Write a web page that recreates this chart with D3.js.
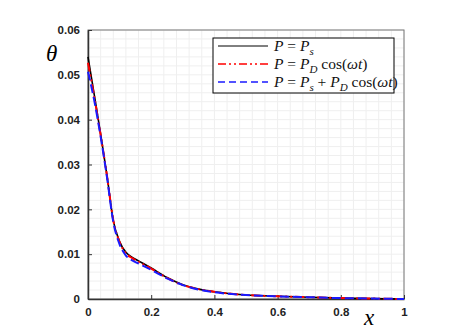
<!DOCTYPE html>
<html lang="en">
<head>
  <meta charset="UTF-8"/>
  <title>theta vs x</title>
  <script src="https://d3js.org/d3.v7.min.js"></script>
  <style>
    body { margin:0; background:#fff; }
    svg { display:block; }
    .tick-lbl { font-family:Arial,"Liberation Sans",sans-serif; font-weight:bold; font-size:11.5px; fill:#222; }
    .math { font-family:"Liberation Serif","DejaVu Serif",serif; }
  </style>
</head>
<body>
  <svg width="453" height="335"></svg>
  <script>
    // sampled positions along x
    const xs = [0, 0.02, 0.04, 0.06, 0.08, 0.10, 0.12, 0.14, 0.16, 0.20, 0.25, 0.30, 0.35, 0.40, 0.50, 0.60, 0.70, 0.80, 0.90, 1.00];
    // P = Ps
    const thetaStatic  = [0.0540, 0.0455, 0.0368, 0.0276, 0.0175, 0.0128, 0.0104, 0.0093, 0.0085, 0.0069, 0.0048, 0.0032, 0.0022, 0.0016, 0.0009, 0.0006, 0.0004, 0.0002, 0.0001, 0];
    // P = PD cos(wt)
    const thetaDynamic = [0.0527, 0.0450, 0.0366, 0.0275, 0.0176, 0.0127, 0.0102, 0.0091, 0.0083, 0.0068, 0.0047, 0.0031, 0.0022, 0.0016, 0.0009, 0.0006, 0.0004, 0.0002, 0.0001, 0];
    // P = Ps + PD cos(wt)
    const thetaCombined= [0.0507, 0.0442, 0.0362, 0.0272, 0.0172, 0.0122, 0.0097, 0.0086, 0.0079, 0.0065, 0.0046, 0.0031, 0.0021, 0.0015, 0.0009, 0.0006, 0.0004, 0.0002, 0.0001, 0];
    const xTicks = [0, 0.2, 0.4, 0.6, 0.8, 1];
    const yTicks = [0, 0.01, 0.02, 0.03, 0.04, 0.05, 0.06];

    const svg = d3.select('svg');
    const L = 88, R = 404, T = 30, B = 299;

    const x = d3.scaleLinear().domain([0,1]).range([L,R]);
    const y = d3.scaleLinear().domain([0,0.06]).range([B,T]);

    // grid (minor every 0.04 / 0.002)
    const grid = svg.append('g').attr('stroke','#efefef').attr('stroke-width',1);
    d3.range(0, 1.0001, 0.04).forEach(v=>{
      grid.append('line').attr('x1',x(v)).attr('x2',x(v)).attr('y1',T).attr('y2',B);
    });
    d3.range(0, 0.06001, 0.002).forEach(v=>{
      grid.append('line').attr('y1',y(v)).attr('y2',y(v)).attr('x1',L).attr('x2',R);
    });

    // frame
    svg.append('rect').attr('x',L).attr('y',T).attr('width',R-L).attr('height',B-T)
      .attr('fill','none').attr('stroke','#777').attr('stroke-width',1);

    // axes with inward ticks
    const xAxis = svg.append('g').attr('transform',`translate(0,${B})`)
      .call(d3.axisBottom(x).tickValues(xTicks).tickSizeInner(-4).tickSizeOuter(0).tickPadding(9)
        .tickFormat(d=>d===0||d===1?d3.format('d')(d):d3.format('.1f')(d)));
    const yAxis = svg.append('g').attr('transform',`translate(${L},0)`)
      .call(d3.axisLeft(y).tickValues(yTicks).tickSizeInner(-4).tickSizeOuter(0).tickPadding(8)
        .tickFormat(d=>d===0?'0':d3.format('.2f')(d)));
    [xAxis,yAxis].forEach(a=>{
      a.select('.domain').attr('stroke','#333').attr('stroke-width',1.5);
      a.selectAll('.tick line').attr('stroke','#333');
      a.selectAll('.tick text').attr('class','tick-lbl').attr('fill',null);
    });

    // curves
    const series = [
      { vals:thetaStatic,   color:'#000000', dash:null,            w:1.6 },
      { vals:thetaDynamic,  color:'#ff0000', dash:'9,3,2,3,2,3',   w:2 },
      { vals:thetaCombined, color:'#1a1aff', dash:'9,4',           w:2 }
    ];
    const line = d3.line().x(d=>x(d[0])).y(d=>y(d[1])).curve(d3.curveMonotoneX);
    series.forEach(s=>{
      svg.append('path').datum(xs.map((v,i)=>[v,s.vals[i]]))
        .attr('d',line).attr('fill','none')
        .attr('stroke',s.color).attr('stroke-width',s.w)
        .attr('stroke-dasharray',s.dash);
    });

    // axis titles
    svg.append('text').attr('class','math').attr('x',46).attr('y',61)
      .attr('font-size',23).attr('font-style','italic').text('θ');
    svg.append('text').attr('class','math').attr('x',364).attr('y',325)
      .attr('font-size',23).attr('font-style','italic').text('x');

    // legend
    const lg = svg.append('g');
    lg.append('rect').attr('x',213).attr('y',38).attr('width',181).attr('height',55)
      .attr('fill','#fff').attr('stroke','#000').attr('stroke-width',1);
    const labels = [
      [['P',1],[' = ',0],['P',1],['s',2]],
      [['P',1],[' = ',0],['P',1],['D',2],[' cos(',3],['ωt',1],[')',0]],
      [['P',1],[' = ',0],['P',1],['s',2],[' + ',3],['P',1],['D',2],[' cos(',3],['ωt',1],[')',0]]
    ];
    series.forEach((s,i)=>{
      const ly = 46 + i*18;
      lg.append('line').attr('x1',218).attr('x2',268).attr('y1',ly).attr('y2',ly)
        .attr('stroke',s.color).attr('stroke-width',i===0?1:1.5)
        .attr('stroke-dasharray',i===1?'8,3,2,3,2,3':i===2?'7,4':null);
      const t = lg.append('text').attr('class','math').attr('x',274).attr('y',ly+5)
        .attr('font-size',15.5).attr('fill','#111');
      labels[i].forEach(([str,kind])=>{
        const sp = t.append('tspan').text(str);
        if(kind===1) sp.attr('font-style','italic');
        if(kind===2) sp.attr('font-style','italic').attr('font-size',11).attr('dy',4);
        if(kind===3) sp.attr('dy',-4); // back to baseline after a subscript
      });
    });
  </script>
</body>
</html>
